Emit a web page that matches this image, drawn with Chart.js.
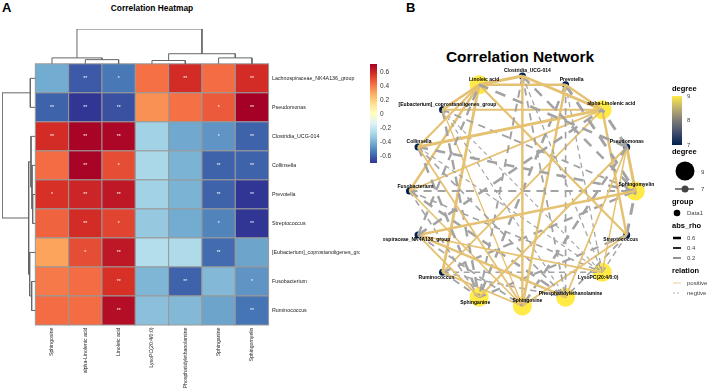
<!DOCTYPE html>
<html>
<head>
<meta charset="utf-8">
<script src="https://cdn.jsdelivr.net/npm/chart.js@4.4.1/dist/chart.umd.min.js"></script>
<style>
  body { margin: 0; width: 708px; height: 390px; background: #fff; position: relative; overflow: hidden; font-family: "Liberation Sans", Arial, sans-serif; }
  canvas { position: absolute; top: 0; }
  #heatmap { left: 0; }
  #network { left: 383px; }
  .ttl { position: absolute; font-weight: bold; color: #000; white-space: nowrap; line-height: 1; }
</style>
</head>
<body>
<div class="ttl" style="left:2px;top:1px;font-size:13px">A</div>
<div class="ttl" style="left:52px;top:4px;width:200px;text-align:center;font-size:8.4px">Correlation Heatmap</div>
<div class="ttl" style="left:406px;top:1px;font-size:13px">B</div>
<div class="ttl" style="left:400px;top:49px;width:240px;text-align:center;font-size:15.5px">Correlation Network</div>
<canvas id="heatmap" width="400" height="390"></canvas>
<canvas id="network" width="325" height="390"></canvas>
<script>
// ---- data ----
const metabolites = ['Sphingosine', 'alpha-Linolenic acid', 'Linoleic acid', 'LysoPC(20:4/0:0)',
    'Phosphatidylethanolamine', 'Sphinganine', 'Sphingomyelin'];
const bacteria = ['Lachnospiraceae_NK4A136_group', 'Pseudomonas', 'Clostridia_UCG-014', 'Collinsella',
    'Prevotella', 'Streptococcus', '[Eubacterium]_coprostanoligenes_group', 'Fusobacterium', 'Ruminococcus'];

// spearman rho, rows = bacteria, cols = metabolites
const rho = [
    [-0.42, -0.62, -0.55,  0.42,  0.58,  0.43,  0.58],
    [-0.60, -0.70, -0.64,  0.35,  0.42,  0.47,  0.71],
    [ 0.58,  0.70,  0.69, -0.30, -0.43, -0.48, -0.60],
    [ 0.43,  0.70,  0.50, -0.28, -0.40, -0.60, -0.60],
    [ 0.57,  0.60,  0.64, -0.30, -0.40, -0.60, -0.70],
    [ 0.45,  0.58,  0.52, -0.33, -0.42, -0.52, -0.70],
    [ 0.31,  0.50,  0.64, -0.25, -0.27, -0.58, -0.44],
    [ 0.40,  0.43,  0.57, -0.39, -0.60, -0.38, -0.48],
    [ 0.43,  0.43,  0.67, -0.36, -0.38, -0.44, -0.56]
];
const stars = [
    ['', '**', '*', '', '**', '', '**'],
    ['**', '**', '**', '', '', '*', '**'],
    ['**', '**', '**', '', '', '*', '**'],
    ['', '**', '*', '', '', '**', '**'],
    ['*', '**', '**', '', '', '**', '**'],
    ['', '**', '*', '', '', '*', '**'],
    ['', '*', '**', '', '', '**', ''],
    ['', '', '**', '', '**', '', '*'],
    ['', '', '**', '', '', '', '**']
];

// hclust style merges: negative = leaf (1-based, display order), positive = earlier merge, then height (root = 1)
const colMerges = [[-2, -3, 0.12], [-4, -5, 0.095], [-6, -7, 0.17], [-1, 1, 0.17], [2, 3, 0.29], [4, 5, 1]];
const rowMerges = [[-1, -2, 0.15], [-5, -6, 0.08], [-4, 2, 0.1], [-3, 3, 0.13], [-8, -9, 0.11], [-7, 5, 0.17], [4, 6, 0.2], [1, 7, 1]];

const colorTicks = [0.6, 0.4, 0.2, 0, -0.2, -0.4, -0.6];
const rhoMin = -0.7, rhoMax = 0.71;

// network: circle order of nodes
const networkOrder = ['Clostridia_UCG-014', 'Prevotella', 'alpha-Linolenic acid', 'Pseudomonas', 'Sphingomyelin',
    'Streptococcus', 'LysoPC(20:4/0:0)', 'Phosphatidylethanolamine', 'Sphingosine', 'Sphinganine', 'Ruminococcus',
    'Lachnospiraceae_NK4A136_group', 'Fusobacterium', 'Collinsella', '[Eubacterium]_coprostanoligenes_group', 'Linoleic acid'];
const absRhoTicks = [0.6, 0.4, 0.2];
const degreeTicks = [9, 8, 7];

// ---- styles ----
const FONT = '"Liberation Sans", Arial, sans-serif';
const rdylbu = ['#313695', '#4575B4', '#74ADD1', '#ABD9E9', '#E0F3F8', '#FFFFBF', '#FEE090', '#FDAE61', '#F46D43', '#D73027', '#A50026'];
const cividis = ['#00204D', '#414D6B', '#7C7B78', '#BCAF6F', '#FFEA46'];
const posColor = '#E5C172';
const negColor = '#A3A3A3';
// label nudges (px) for node names, same order as networkOrder
const labelNudge = [[5, -5], [6, -5], [9, -6], [0, -5], [1, -6], [-6, 5], [-4, 5], [5, -4], [5, -5], [-4, 5], [-6, 5], [-9, 5], [6, -4], [1, -5], [5, -5], [5, -5]];

function hexToRgb(h) { return [1, 3, 5].map(i => parseInt(h.slice(i, i + 2), 16)); }
function ramp(stops, t) {
    t = Math.max(0, Math.min(1, t));
    const p = t * (stops.length - 1);
    const i = Math.min(Math.floor(p), stops.length - 2);
    const f = p - i;
    const a = hexToRgb(stops[i]), b = hexToRgb(stops[i + 1]);
    return `rgb(${a.map((v, k) => Math.round(v + (b[k] - v) * f)).join(',')})`;
}
const heatColor = v => ramp(rdylbu, (v - rhoMin) / (rhoMax - rhoMin));

// dendrogram -> one U-shaped line per merge
function treeLines(merges, leafPos, toPoint) {
    const nodes = [];
    const get = id => id < 0 ? { pos: leafPos(-id - 1), h: 0 } : nodes[id - 1];
    return merges.map(([a, b, h]) => {
        const A = get(a), B = get(b);
        nodes.push({ pos: (A.pos + B.pos) / 2, h });
        return {
            data: [toPoint(A.pos, A.h), toPoint(A.pos, h), toPoint(B.pos, h), toPoint(B.pos, B.h)],
            showLine: true, borderColor: '#666', borderWidth: 1, pointRadius: 0, tension: 0
        };
    });
}
const colTree = treeLines(colMerges, j => j + 0.5, (p, h) => ({ x: p, y: -1.2 * h }));
const rowTree = treeLines(rowMerges, i => i + 0.5, (p, h) => ({ x: -h, y: p }));

const cellPlugin = {
    id: 'cells',
    beforeDraw(chart) {
        // panel A is cut off at x = 360 (long row names)
        chart.ctx.save();
        chart.ctx.beginPath();
        chart.ctx.rect(0, 0, 360, chart.height);
        chart.ctx.clip();
    },
    beforeDatasetsDraw(chart) {
        const { ctx, scales: { x, y } } = chart;
        ctx.restore();
        ctx.save();
        rho.forEach((row, i) => row.forEach((v, j) => {
            const x0 = x.getPixelForValue(j), x1 = x.getPixelForValue(j + 1);
            const y0 = y.getPixelForValue(i), y1 = y.getPixelForValue(i + 1);
            ctx.fillStyle = heatColor(v);
            ctx.fillRect(x0, y0, x1 - x0, y1 - y0);
            ctx.strokeStyle = '#999';
            ctx.lineWidth = 1;
            ctx.strokeRect(x0, y0, x1 - x0, y1 - y0);
            if (stars[i][j]) {
                ctx.fillStyle = '#fff';
                ctx.font = `5px ${FONT}`;
                ctx.textAlign = 'center';
                ctx.textBaseline = 'middle';
                ctx.fillText(stars[i][j], (x0 + x1) / 2, (y0 + y1) / 2);
            }
        }));
        ctx.restore();
    },
    afterDraw(chart) {
        // colour key
        const { ctx } = chart;
        const left = 370, w = 7, top = 64, bottom = 163;
        const yOf = v => bottom - (v - rhoMin) / (rhoMax - rhoMin) * (bottom - top);
        ctx.save();
        const g = ctx.createLinearGradient(0, bottom, 0, top);
        rdylbu.forEach((c, k) => g.addColorStop(k / (rdylbu.length - 1), c));
        ctx.fillStyle = g;
        ctx.fillRect(left, top, w, bottom - top);
        ctx.fillStyle = '#333';
        ctx.font = `6.5px ${FONT}`;
        ctx.textAlign = 'left';
        ctx.textBaseline = 'middle';
        colorTicks.forEach(v => ctx.fillText(String(v), left + w + 3, yOf(v)));
        ctx.restore();
    }
};

new Chart(document.getElementById('heatmap'), {
    type: 'scatter',
    data: { datasets: [...colTree, ...rowTree] },
    options: {
        responsive: false,
        animation: false,
        layout: { padding: { left: 2, top: 29, right: 0, bottom: 0 } },
        plugins: { legend: { display: false }, tooltip: { enabled: false } },
        scales: {
            x: {
                type: 'linear', min: -1, max: 7,
                grid: { display: false, drawTicks: false }, border: { display: false },
                afterBuildTicks: s => { s.ticks = metabolites.map((_, j) => ({ value: j + 0.5 })); },
                afterFit: s => { s.height = 65; },
                ticks: {
                    autoSkip: false, minRotation: 90, maxRotation: 90, padding: 2.5, color: '#222',
                    font: { size: 5.2, family: FONT },
                    callback: v => metabolites[Math.floor(v)]
                }
            },
            y: {
                type: 'linear', position: 'right', reverse: true, min: -1.2, max: 9,
                grid: { display: false, drawTicks: false }, border: { display: false },
                afterBuildTicks: s => { s.ticks = bacteria.map((_, i) => ({ value: i + 0.5 })); },
                afterFit: s => { s.width = 131.4; },
                ticks: {
                    autoSkip: false, padding: 3.4, color: '#222',
                    font: { size: 5.3, family: FONT },
                    callback: v => bacteria[Math.floor(v)]
                }
            }
        }
    },
    plugins: [cellPlugin]
});

// ---- network ----
const nodePos = {};
networkOrder.forEach((n, k) => {
    const a = Math.PI / 2 - k * 2 * Math.PI / networkOrder.length;
    nodePos[n] = { x: Math.cos(a), y: Math.sin(a) };
});
const edges = [];
bacteria.forEach((b, i) => metabolites.forEach((m, j) => edges.push({ from: b, to: m, rho: rho[i][j] })));
const degree = {};
edges.forEach(e => { degree[e.from] = (degree[e.from] || 0) + 1; degree[e.to] = (degree[e.to] || 0) + 1; });

const edgeWidth = r => Math.abs(r) * 4.2;
const degColor = d => ramp(cividis, (d - 7) / 2);
const degRadius = d => 3.5 + (d - 7) * 3;

const edgeSets = edges.map(e => {
    const w = edgeWidth(e.rho);
    return {
        data: [nodePos[e.from], nodePos[e.to]],
        showLine: true, pointRadius: 0, tension: 0,
        borderColor: e.rho > 0 ? posColor : negColor,
        borderWidth: w,
        borderDash: e.rho > 0 ? [] : [4 * w, 3 * w]
    };
});
const nodeSet = {
    data: networkOrder.map(n => nodePos[n]),
    pointRadius: networkOrder.map(n => degRadius(degree[n])),
    pointBackgroundColor: networkOrder.map(n => degColor(degree[n])),
    pointBorderWidth: 0
};

const networkPlugin = {
    id: 'netLabels',
    afterDatasetsDraw(chart) {
        const { ctx, scales: { x, y } } = chart;
        ctx.save();
        ctx.fillStyle = '#000';
        ctx.font = `bold 5px ${FONT}`;
        ctx.textAlign = 'center';
        ctx.textBaseline = 'middle';
        networkOrder.forEach((n, k) => {
            const [dx, dy] = labelNudge[k];
            ctx.fillText(n, x.getPixelForValue(nodePos[n].x) + dx, y.getPixelForValue(nodePos[n].y) + dy);
        });
        ctx.restore();
    },
    afterDraw(chart) {
        const { ctx } = chart;
        const lx = 289;
        ctx.save();
        const title = (t, top) => {
            ctx.fillStyle = '#000'; ctx.font = `bold 7.5px ${FONT}`;
            ctx.textAlign = 'left'; ctx.textBaseline = 'top';
            ctx.fillText(t, lx, top);
        };
        const label = (t, x0, y0) => {
            ctx.fillStyle = '#444'; ctx.font = `6px ${FONT}`;
            ctx.textAlign = 'left'; ctx.textBaseline = 'middle';
            ctx.fillText(t, x0, y0);
        };
        // degree colourbar
        title('degree', 85);
        const cbTop = 96, cbBot = 145;
        const g = ctx.createLinearGradient(0, cbBot, 0, cbTop);
        cividis.forEach((c, k) => g.addColorStop(k / (cividis.length - 1), c));
        ctx.fillStyle = g;
        ctx.fillRect(lx, cbTop, 10, cbBot - cbTop);
        degreeTicks.forEach(d => label(String(d), lx + 15, cbBot - (d - 7) / 2 * (cbBot - cbTop)));
        // degree size
        title('degree', 148);
        ctx.fillStyle = '#000';
        ctx.beginPath(); ctx.arc(lx + 13, 171, degRadius(9), 0, Math.PI * 2); ctx.fill();
        label('9', lx + 29, 172);
        ctx.strokeStyle = '#000'; ctx.lineWidth = 1;
        ctx.beginPath(); ctx.moveTo(lx + 3, 189); ctx.lineTo(lx + 22, 189); ctx.stroke();
        ctx.beginPath(); ctx.arc(lx + 13, 189, degRadius(7), 0, Math.PI * 2); ctx.fill();
        label('7', lx + 29, 189);
        // group
        title('group', 198);
        ctx.beginPath(); ctx.arc(lx + 5, 213, 3.3, 0, Math.PI * 2); ctx.fill();
        label('Data1', lx + 15, 213);
        // abs_rho
        title('abs_rho', 222);
        absRhoTicks.forEach((r, k) => {
            const yy = 238 + k * 10;
            ctx.strokeStyle = '#000'; ctx.lineWidth = edgeWidth(r);
            ctx.beginPath(); ctx.moveTo(lx + 1, yy); ctx.lineTo(lx + 9, yy); ctx.stroke();
            label(String(r), lx + 15, yy);
        });
        // relation
        title('relation', 267);
        ctx.lineWidth = 0.8;
        ctx.strokeStyle = posColor;
        ctx.beginPath(); ctx.moveTo(lx + 1, 283); ctx.lineTo(lx + 9, 283); ctx.stroke();
        label('positive', lx + 15, 283);
        ctx.strokeStyle = negColor; ctx.setLineDash([2, 2]);
        ctx.beginPath(); ctx.moveTo(lx + 1, 293); ctx.lineTo(lx + 9, 293); ctx.stroke();
        ctx.setLineDash([]);
        label('negtive', lx + 15, 293);
        ctx.restore();
    }
};

new Chart(document.getElementById('network'), {
    type: 'scatter',
    data: { datasets: [...edgeSets, nodeSet] },
    options: {
        responsive: false,
        animation: false,
        layout: { padding: { left: 4.75, right: 55.75, top: 58.75, bottom: 66.75 } },
        plugins: { legend: { display: false }, tooltip: { enabled: false } },
        scales: {
            x: { type: 'linear', min: -1.15, max: 1.15, display: false },
            y: { type: 'linear', min: -1.15, max: 1.15, display: false }
        }
    },
    plugins: [networkPlugin]
});
</script>
</body>
</html>
